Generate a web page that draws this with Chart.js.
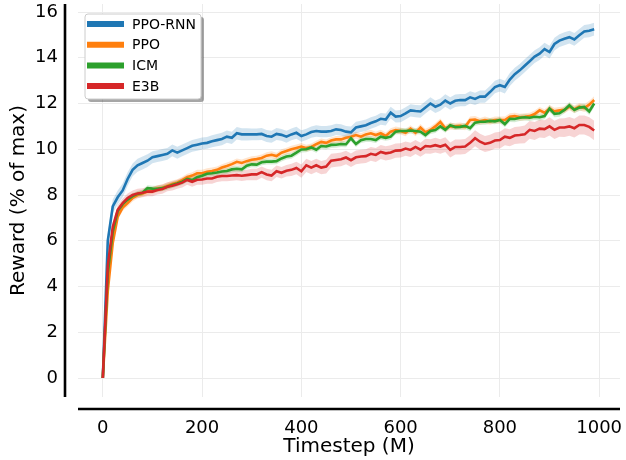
<!DOCTYPE html>
<html lang="en">
<head>
  <meta charset="UTF-8">
  <title>Reward vs Timestep</title>
  <script src="https://cdn.jsdelivr.net/npm/chart.js"></script>
  <style>
    html, body { margin: 0; padding: 0; background: #fff; }
    #wrap { position: relative; width: 626px; height: 460px; }
  </style>
</head>
<body>
  <div id="wrap"><canvas id="rewardChart"></canvas></div>
  <script>
    // timesteps (M)
    const timesteps = [
      0, 10, 20, 30, 40, 50, 60, 70, 80, 90,
      100, 110, 120, 130, 140, 150, 160, 170, 180, 190,
      200, 210, 220, 230, 240, 250, 260, 270, 280, 290,
      300, 310, 320, 330, 340, 350, 360, 370, 380, 390,
      400, 410, 420, 430, 440, 450, 460, 470, 480, 490,
      500, 510, 520, 530, 540, 550, 560, 570, 580, 590,
      600, 610, 620, 630, 640, 650, 660, 670, 680, 690,
      700, 710, 720, 730, 740, 750, 760, 770, 780, 790,
      800, 810, 820, 830, 840, 850, 860, 870, 880, 890,
      900, 910, 920, 930, 940, 950, 960, 970, 980, 990
    ];

    const ppoRnn = [
      0, 6.0, 7.5, 7.9, 8.2, 8.7, 9.1, 9.3, 9.4, 9.5,
      9.65, 9.7, 9.75, 9.8, 9.95, 9.85, 9.95, 10.05, 10.15, 10.2,
      10.25, 10.28, 10.35, 10.4, 10.45, 10.55, 10.5, 10.7, 10.65, 10.65,
      10.65, 10.65, 10.67, 10.58, 10.55, 10.67, 10.63, 10.55, 10.65, 10.72,
      10.58, 10.65, 10.75, 10.8, 10.77, 10.77, 10.8, 10.87, 10.84, 10.77,
      10.74, 10.95, 11.0, 11.05, 11.15, 11.22, 11.33, 11.3, 11.6, 11.43,
      11.45, 11.57, 11.7, 11.67, 11.65, 11.83, 12.0, 11.86, 11.95, 12.13,
      12.0, 12.12, 12.15, 12.15, 12.27, 12.2, 12.3, 12.3, 12.5, 12.72,
      12.8, 12.72, 13.05, 13.28, 13.45, 13.65, 13.85, 14.05, 14.18, 14.38,
      14.25, 14.6, 14.75, 14.83, 14.9, 14.8, 14.98, 15.15, 15.18, 15.25
    ];
    const ppo = [
      0, 3.8, 5.9, 7.05, 7.45, 7.65, 7.87, 8.0, 8.07, 8.15,
      8.2, 8.28, 8.32, 8.4, 8.48, 8.54, 8.65, 8.78, 8.85, 8.95,
      8.95, 9.02, 9.05, 9.1, 9.2, 9.27, 9.35, 9.45, 9.4, 9.48,
      9.54, 9.57, 9.62, 9.72, 9.76, 9.7, 9.85, 9.92, 10.0, 10.06,
      10.12, 10.05, 10.1, 10.22, 10.32, 10.28, 10.38, 10.43, 10.43, 10.5,
      10.55, 10.62, 10.55, 10.65, 10.7, 10.62, 10.7, 10.58, 10.77, 10.84,
      10.8, 10.72, 10.9, 10.72, 10.95, 10.75, 10.84, 11.0, 11.2, 10.92,
      11.0, 11.0, 11.02, 10.98, 11.28, 11.3, 11.22, 11.28, 11.22, 11.28,
      11.28, 11.28, 11.42, 11.45, 11.4, 11.42, 11.45, 11.54, 11.7, 11.6,
      11.78, 11.66, 11.7, 11.72, 11.86, 11.75, 11.86, 11.8, 11.95, 12.15
    ];
    const icm = [
      0, 4.6, 6.4, 7.3, 7.6, 7.8, 7.95, 8.05, 8.1, 8.3,
      8.28, 8.27, 8.3, 8.36, 8.44, 8.5, 8.58, 8.7, 8.65, 8.78,
      8.84, 8.93, 8.95, 8.98, 9.03, 9.05, 9.12, 9.15, 9.12, 9.28,
      9.34, 9.33, 9.43, 9.46, 9.46, 9.48, 9.6, 9.68, 9.72, 9.85,
      9.99, 10.0, 10.08, 9.98, 10.14, 10.12, 10.19, 10.2, 10.23, 10.22,
      10.48, 10.23, 10.4, 10.45, 10.45, 10.4, 10.55, 10.5, 10.55, 10.77,
      10.8, 10.8, 10.82, 10.8, 10.77, 10.62, 10.8, 10.84, 11.0, 10.85,
      11.05, 10.97, 10.98, 11.02, 10.92, 11.16, 11.2, 11.2, 11.24, 11.22,
      11.28, 11.1, 11.33, 11.32, 11.38, 11.4, 11.38, 11.42, 11.4, 11.45,
      11.78, 11.55, 11.57, 11.72, 11.92, 11.72, 11.82, 11.85, 11.65, 12.0
    ];
    const e3b = [
      0, 4.9, 6.6, 7.35, 7.65, 7.87, 8.0, 8.07, 8.1, 8.15,
      8.15, 8.22, 8.26, 8.36, 8.4, 8.47, 8.54, 8.66, 8.58, 8.67,
      8.68, 8.72, 8.72, 8.8, 8.83, 8.83, 8.85, 8.87, 8.84, 8.87,
      8.9, 8.9, 9.0, 8.9, 8.85, 9.04, 8.97, 9.06, 9.1, 9.18,
      9.04, 9.3, 9.2, 9.3, 9.2, 9.24, 9.5, 9.53, 9.56, 9.64,
      9.52, 9.65, 9.68, 9.7, 9.8, 9.75, 9.88, 9.82, 9.86, 9.94,
      9.95, 10.03, 9.97, 10.1, 9.98, 10.14, 10.12, 10.18, 10.12, 10.2,
      9.97, 10.1, 10.1, 10.12, 10.28, 10.48, 10.33, 10.23, 10.28, 10.38,
      10.4, 10.55, 10.5, 10.6, 10.62, 10.65, 10.85, 10.8, 10.9, 10.88,
      11.0, 10.85, 10.95, 10.95, 11.0, 10.92, 11.06, 11.06, 10.98, 10.82
    ];

    // half width of the shaded band around each curve
    const ppoRnnErr = [
      0, 0.3, 0.3, 0.3, 0.3, 0.3, 0.28, 0.28, 0.28, 0.28,
      0.26, 0.26, 0.26, 0.26, 0.26, 0.26, 0.26, 0.26, 0.26, 0.26,
      0.26, 0.26, 0.26, 0.27, 0.27, 0.27, 0.27, 0.27, 0.27, 0.27,
      0.26, 0.26, 0.26, 0.26, 0.26, 0.26, 0.26, 0.26, 0.26, 0.26,
      0.25, 0.25, 0.25, 0.25, 0.25, 0.25, 0.25, 0.25, 0.25, 0.25,
      0.25, 0.25, 0.25, 0.25, 0.25, 0.25, 0.26, 0.26, 0.26, 0.26,
      0.27, 0.27, 0.27, 0.27, 0.27, 0.27, 0.27, 0.27, 0.27, 0.27,
      0.27, 0.27, 0.27, 0.27, 0.27, 0.27, 0.27, 0.27, 0.27, 0.27,
      0.28, 0.28, 0.28, 0.28, 0.28, 0.28, 0.28, 0.28, 0.28, 0.28,
      0.28, 0.28, 0.28, 0.28, 0.28, 0.28, 0.28, 0.28, 0.28, 0.28
    ];
    const ppoErr = [
      0, 0.22, 0.18, 0.15, 0.15, 0.15, 0.15, 0.15, 0.15, 0.15,
      0.15, 0.15, 0.15, 0.15, 0.15, 0.15, 0.15, 0.15, 0.15, 0.15,
      0.15, 0.15, 0.15, 0.15, 0.15, 0.15, 0.15, 0.15, 0.15, 0.15,
      0.15, 0.15, 0.15, 0.15, 0.15, 0.15, 0.15, 0.15, 0.15, 0.15,
      0.15, 0.15, 0.15, 0.15, 0.15, 0.15, 0.15, 0.15, 0.15, 0.15,
      0.15, 0.15, 0.15, 0.15, 0.15, 0.15, 0.15, 0.15, 0.15, 0.15,
      0.15, 0.15, 0.15, 0.15, 0.15, 0.15, 0.15, 0.15, 0.15, 0.15,
      0.15, 0.15, 0.15, 0.15, 0.15, 0.15, 0.15, 0.15, 0.15, 0.15,
      0.15, 0.15, 0.15, 0.15, 0.15, 0.15, 0.15, 0.15, 0.15, 0.15,
      0.15, 0.15, 0.15, 0.15, 0.16, 0.16, 0.16, 0.17, 0.17, 0.17
    ];
    const icmErr = [
      0, 0.18, 0.14, 0.13, 0.13, 0.13, 0.13, 0.13, 0.13, 0.13,
      0.13, 0.13, 0.13, 0.13, 0.13, 0.13, 0.13, 0.13, 0.13, 0.13,
      0.13, 0.13, 0.13, 0.13, 0.13, 0.13, 0.13, 0.13, 0.13, 0.13,
      0.13, 0.13, 0.13, 0.13, 0.13, 0.13, 0.13, 0.13, 0.13, 0.13,
      0.13, 0.13, 0.13, 0.13, 0.13, 0.13, 0.13, 0.13, 0.13, 0.13,
      0.13, 0.13, 0.13, 0.13, 0.13, 0.13, 0.13, 0.13, 0.13, 0.13,
      0.13, 0.13, 0.13, 0.13, 0.13, 0.13, 0.13, 0.13, 0.13, 0.13,
      0.13, 0.13, 0.13, 0.13, 0.13, 0.13, 0.13, 0.13, 0.13, 0.13,
      0.14, 0.14, 0.14, 0.14, 0.14, 0.14, 0.14, 0.14, 0.14, 0.14,
      0.15, 0.15, 0.15, 0.15, 0.15, 0.15, 0.15, 0.15, 0.15, 0.15
    ];
    const e3bErr = [
      0, 0.2, 0.2, 0.2, 0.2, 0.2, 0.2, 0.2, 0.2, 0.2,
      0.2, 0.2, 0.2, 0.2, 0.2, 0.2, 0.21, 0.21, 0.22, 0.22,
      0.23, 0.23, 0.23, 0.23, 0.23, 0.23, 0.23, 0.23, 0.23, 0.23,
      0.25, 0.25, 0.25, 0.25, 0.25, 0.25, 0.25, 0.25, 0.27, 0.27,
      0.29, 0.29, 0.29, 0.29, 0.29, 0.3, 0.3, 0.3, 0.3, 0.3,
      0.3, 0.3, 0.3, 0.3, 0.3, 0.31, 0.31, 0.31, 0.31, 0.31,
      0.31, 0.31, 0.31, 0.31, 0.31, 0.32, 0.32, 0.32, 0.32, 0.32,
      0.33, 0.33, 0.33, 0.33, 0.33, 0.35, 0.35, 0.35, 0.35, 0.35,
      0.37, 0.37, 0.37, 0.37, 0.37, 0.39, 0.39, 0.39, 0.39, 0.39,
      0.4, 0.4, 0.4, 0.41, 0.41, 0.41, 0.42, 0.42, 0.42, 0.43
    ];

    const seriesNames = ["PPO-RNN", "PPO", "ICM", "E3B"];
    const seriesColors = ["#1f77b4", "#ff7f0e", "#2ca02c", "#d62728"];
    const bandColors = ["rgba(31,119,180,0.2)", "rgba(255,127,14,0.2)", "rgba(44,160,44,0.2)", "rgba(214,39,40,0.2)"];
    const seriesValues = [ppoRnn, ppo, icm, e3b];
    const seriesErrors = [ppoRnnErr, ppoErr, icmErr, e3bErr];

    const xTicks = [0, 200, 400, 600, 800, 1000];
    const yTicks = [0, 2, 4, 6, 8, 10, 12, 14, 16];

    const FONT = "'DejaVu Sans', sans-serif";

    const datasets = [];
    // shaded bands first (upper edge then lower edge filled back to it)
    seriesValues.forEach((vals, s) => {
      const err = seriesErrors[s];
      datasets.push({
        data: timesteps.map((t, i) => ({ x: t, y: vals[i] + err[i] })),
        borderWidth: 0, pointRadius: 0, fill: false, order: 20 + s
      });
      datasets.push({
        data: timesteps.map((t, i) => ({ x: t, y: vals[i] - err[i] })),
        borderWidth: 0, pointRadius: 0, fill: "-1",
        backgroundColor: bandColors[s], order: 20 + s
      });
    });
    // mean lines (later series drawn on top)
    seriesValues.forEach((vals, s) => {
      datasets.push({
        label: seriesNames[s],
        data: timesteps.map((t, i) => ({ x: t, y: vals[i] })),
        borderColor: seriesColors[s],
        borderWidth: 2.6,
        pointRadius: 0,
        fill: false,
        tension: 0,
        order: 3 - s
      });
    });

    // offset spines + legend box like the seaborn/matplotlib figure
    const decorations = {
      id: "decorations",
      afterDraw(chart) {
        const ctx = chart.ctx;
        const a = chart.chartArea;
        ctx.save();
        ctx.strokeStyle = "#000";
        ctx.lineWidth = 2.6;
        ctx.beginPath();
        ctx.moveTo(a.left - 13, a.top);
        ctx.lineTo(a.left - 13, a.bottom);
        ctx.moveTo(a.left, a.bottom + 12);
        ctx.lineTo(a.right, a.bottom + 12);
        ctx.stroke();

        // legend
        const bx = 85, by = 14, bw = 116, bh = 85;
        ctx.fillStyle = "rgba(0,0,0,0.35)";
        ctx.beginPath();
        ctx.roundRect(bx + 3, by + 3, bw, bh, 3);
        ctx.fill();
        ctx.fillStyle = "#fff";
        ctx.strokeStyle = "#cccccc";
        ctx.lineWidth = 1;
        ctx.beginPath();
        ctx.roundRect(bx, by, bw, bh, 3);
        ctx.fill();
        ctx.stroke();
        ctx.font = "14px " + FONT;
        ctx.textBaseline = "middle";
        ctx.textAlign = "left";
        seriesNames.forEach((name, s) => {
          const y = by + 10 + s * 20.7;
          ctx.strokeStyle = seriesColors[s];
          ctx.lineWidth = 6;
          ctx.beginPath();
          ctx.moveTo(bx + 2, y);
          ctx.lineTo(bx + 39, y);
          ctx.stroke();
          ctx.fillStyle = "#000";
          ctx.fillText(name, bx + 47, y + 1);
        });
        ctx.restore();
      }
    };

    new Chart(document.getElementById("rewardChart"), {
      type: "line",
      data: { datasets },
      options: {
        responsive: true,
        maintainAspectRatio: false,
        animation: false,
        devicePixelRatio: 1,
        layout: { padding: { top: 4, right: 6, left: 0, bottom: 0 } },
        plugins: {
          legend: { display: false },
          tooltip: { enabled: false },
          filler: { propagate: false }
        },
        scales: {
          x: {
            type: "linear",
            min: -50,
            max: 1042,
            afterBuildTicks(scale) { scale.ticks = xTicks.map(v => ({ value: v })); },
            afterFit(scale) {
              scale.height = 63;
              scale.paddingLeft = 0;
              scale.paddingRight = 0;
            },
            grid: { color: "#ebebeb", lineWidth: 1, drawTicks: false },
            border: { display: false },
            ticks: {
              color: "#000", padding: 21, maxRotation: 0,
              font: { family: FONT, size: 18 },
              callback: v => String(v)
            },
            title: { display: true, text: "Timestep (M)", color: "#000", padding: { top: 0, bottom: 1 }, font: { family: FONT, size: 20 } }
          },
          y: {
            type: "linear",
            min: -0.83,
            max: 16.35,
            afterBuildTicks(scale) { scale.ticks = yTicks.map(v => ({ value: v })); },
            afterFit(scale) {
              scale.width = 78;
              scale.paddingTop = 0;
              scale.paddingBottom = 0;
            },
            grid: { color: "#ebebeb", lineWidth: 1, drawTicks: false },
            border: { display: false },
            ticks: { color: "#000", padding: 20, font: { family: FONT, size: 18 }, callback: v => String(v) },
            title: { display: true, text: "Reward (% of max)", color: "#000", padding: { top: 7, bottom: 0 }, font: { family: FONT, size: 20 } }
          }
        }
      },
      plugins: [decorations]
    });
  </script>
</body>
</html>
